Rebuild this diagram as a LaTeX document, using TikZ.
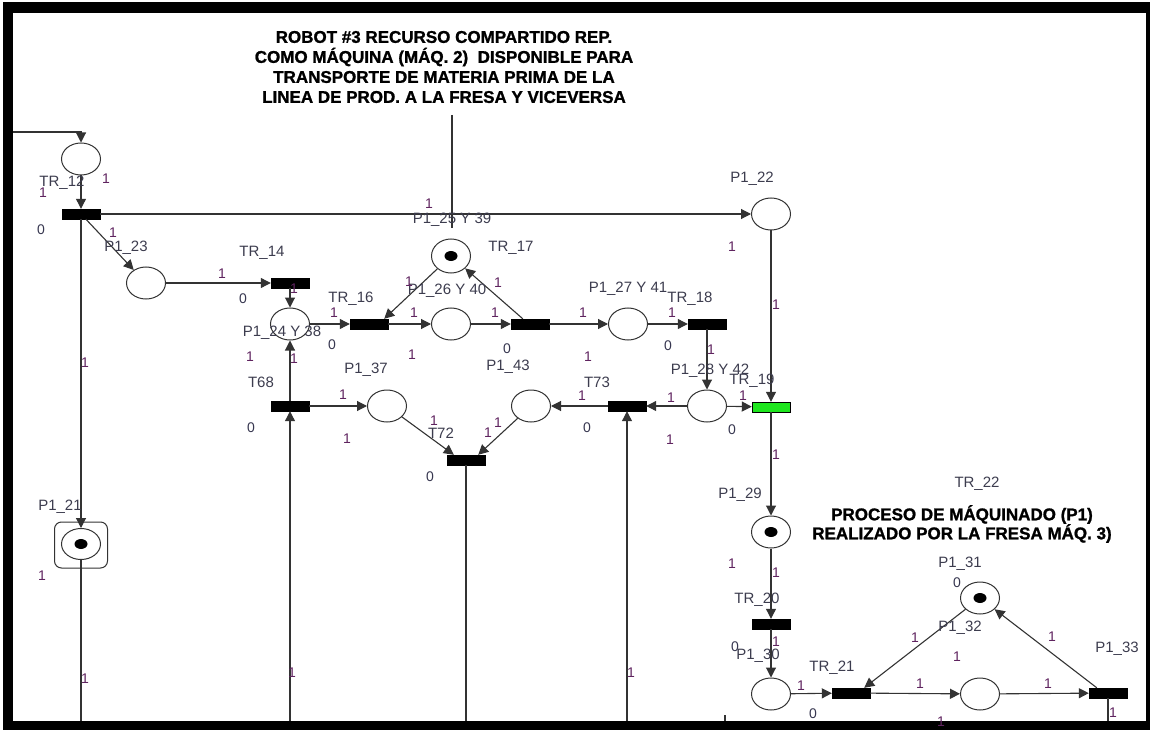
\documentclass[tikz,border=0pt]{standalone}
\usepackage{fontspec}
\setmainfont{Liberation Sans}
\newfontfamily\titlefont{Liberation Sans}[BoldFeatures={FakeBold=1.2}]
\usetikzlibrary{arrows.meta,shapes.geometric}
\definecolor{namecol}{RGB}{60,60,78}
\definecolor{wcol}{RGB}{95,35,95}
\definecolor{zcol}{RGB}{55,55,80}
\definecolor{trgreen}{RGB}{30,230,30}
\begin{document}
\begin{tikzpicture}[x=1pt,y=-1pt,
  place/.style={draw=black!80, ellipse, minimum width=39pt, minimum height=32pt, inner sep=0pt, line width=1pt, fill=white},
  trans/.style={draw=black, fill=black, rectangle, minimum width=38pt, minimum height=10pt, inner sep=0pt},
  tok/.style={fill=black, ellipse, minimum width=13pt, minimum height=10pt, inner sep=0pt},
  arc/.style={draw=black!80, line width=1.1pt, -{Triangle[length=10pt,width=10pt]}},
  plain/.style={draw=black!80, line width=1.1pt},
  nm/.style={font=\fontsize{15}{15}\selectfont, text=namecol, inner sep=0pt},
  wt/.style={font=\fontsize{14}{14}\selectfont, text=wcol, inner sep=0pt},
  zr/.style={font=\fontsize{14}{14}\selectfont, text=zcol, inner sep=0pt},
  ttl/.style={font=\titlefont\bfseries\fontsize{17}{20}\selectfont, align=center, inner sep=0pt}
]
\useasboundingbox (0,0) rectangle (1151,730);
% frame
\fill[black] (3,2) rectangle (1150,13);
\fill[black] (3,2) rectangle (13,730);
\fill[black] (3,721) rectangle (1150,730);
\fill[black] (1146,2) rectangle (1150,730);

% titles
\node[ttl] (title1) at (444,67) {ROBOT \#3 RECURSO COMPARTIDO REP.\\COMO MÁQUINA (MÁQ. 2)\ \ DISPONIBLE PARA\\TRANSPORTE DE MATERIA PRIMA DE LA\\LINEA DE PROD. A LA FRESA Y VICEVERSA};
\node[ttl] (title2) at (962,524) {PROCESO DE MÁQUINADO (P1)\\[-1pt]REALIZADO POR LA FRESA MÁQ. 3)};

% places
\node[place] (ptop) at (81,159) {};
\node[place] (p22) at (771,214) {};
\node[place] (p23) at (146,283) {};
\node[place] (p24) at (290,324) {};
\node[place, minimum height=34pt] (p25) at (451,256) {};
\node[place] (p26) at (451,324) {};
\node[place] (p27) at (628,324) {};
\node[place] (p37) at (387,406) {};
\node[place] (p43) at (531,406) {};
\node[place] (p28) at (707,406) {};
\node[place] (p29) at (771,532) {};
\node[place] (p30) at (771,694) {};
\node[place] (p31) at (980,598) {};
\node[place] (p32) at (980,694) {};
\node[draw=black!80, line width=1pt, rounded corners=7pt, minimum width=53pt, minimum height=46pt, inner sep=0pt] (p21box) at (81,545) {};
\node[place, minimum height=31pt] (p21) at (81,544) {};
% tokens
\node[tok] (k25) at (p25) {};
\node[tok] (k29) at (p29) {};
\node[tok] (k31) at (p31) {};
\node[tok] (k21) at (p21) {};

% transitions
\node[trans] (t12) at (81,214) {};
\node[trans] (t14) at (290,283) {};
\node[trans] (t16) at (369,324) {};
\node[trans] (t17) at (530,324) {};
\node[trans] (t18) at (707,324) {};
\node[trans] (t68) at (290,406) {};
\node[trans] (t72) at (466,460) {};
\node[trans] (t73) at (627,406) {};
\node[trans, fill=trgreen] (t19) at (771,407) {};
\node[trans] (t20) at (771,624) {};
\node[trans] (t21) at (851,693) {};
\node[trans] (t22) at (1108,693) {};

% free ends
\coordinate (inL) at (13,132);
\coordinate (b21) at (81,721);
\coordinate (b68) at (290,721);
\coordinate (b72) at (466,721);
\coordinate (b73) at (627,721);
\coordinate (b22) at (1108,721);
\coordinate (ta) at (452,115);
\coordinate (tb) at (452,228);
\coordinate (tk1) at (725,715);
\coordinate (tk2) at (725,721);

% connectors
\draw[arc] (inL) -| (ptop.north);
\draw[arc] (ptop) -- (t12);
\draw[arc] (t12) -- (p22);
\draw[arc] (t12) -- (p23);
\draw[arc] (t12) -- (p21.north);
\draw[plain] (p21.south) -- (b21);
\draw[arc] (p23) -- (t14);
\draw[arc] (t14) -- (p24);
\draw[arc] (p24) -- (t16);
\draw[arc] (p25) -- ([xshift=-4pt]t16.north east);
\draw[arc] (t16) -- (p26);
\draw[arc] (p26) -- (t17);
\draw[arc] ([xshift=12pt]t17.north west) -- (p25);
\draw[arc] (t17) -- (p27);
\draw[arc] (p27) -- (t18);
\draw[arc] (t18) -- (p28);
\draw[arc] (p28) -- (t73);
\draw[arc] (p28) -- (t19);
\draw[arc] (p22) -- (t19);
\draw[arc] (t68) -- (p24);
\draw[arc] (b68) -- (t68);
\draw[arc] (t68) -- (p37);
\draw[arc] (p37) -- ([xshift=7pt]t72.north west);
\draw[arc] (p43) -- ([xshift=-7pt]t72.north east);
\draw[plain] (t72) -- (b72);
\draw[arc] (t73) -- (p43);
\draw[arc] (b73) -- (t73);
\draw[arc] (t19) -- (p29);
\draw[arc] (p29) -- (t20);
\draw[arc] (t20) -- (p30);
\draw[arc] (p30) -- (t21);
\draw[arc] (p31) -- ([xshift=-6pt]t21.north east);
\draw[arc] (t21) -- (p32);
\draw[arc] (p32) -- (t22);
\draw[arc] ([xshift=8pt]t22.north west) -- (p31);
\draw[plain] (t22) -- (b22);
\draw[plain] (ta) -- (tb);
\draw[plain] (tk1) -- (tk2);

% names
\node[nm] (n1) at (62,183) {TR\_12};
\node[nm] (n2) at (752,179) {P1\_22};
\node[nm] (n3) at (126,248) {P1\_23};
\node[nm] (n4) at (262,253) {TR\_14};
\node[nm] (n5) at (282,333) {P1\_24 Y 38};
\node[nm] (n6) at (351,299) {TR\_16};
\node[nm] (n7) at (452,220) {P1\_25 Y 39};
\node[nm] (n8) at (511,248) {TR\_17};
\node[nm] (n9) at (447,291) {P1\_26 Y 40};
\node[nm] (n10) at (628,289) {P1\_27 Y 41};
\node[nm] (n11) at (690,299) {TR\_18};
\node[nm] (n12) at (261,382) {T68};
\node[nm] (n13) at (366,370) {P1\_37};
\node[nm] (n14) at (441,433) {T72};
\node[nm] (n15) at (508,367) {P1\_43};
\node[nm] (n16) at (597,382) {T73};
\node[nm] (n17) at (710,371) {P1\_28 Y 42};
\node[nm] (n18) at (752,381) {TR\_19};
\node[nm] (n19) at (60,507) {P1\_21};
\node[nm] (n20) at (740,495) {P1\_29};
\node[nm] (n21) at (977,484) {TR\_22};
\node[nm] (n22) at (960,564) {P1\_31};
\node[nm] (n23) at (757,600) {TR\_20};
\node[nm] (n24) at (960,628) {P1\_32};
\node[nm] (n25) at (758,656) {P1\_30};
\node[nm] (n26) at (832,668) {TR\_21};
\node[nm] (n27) at (1117,649) {P1\_33};

% weights 1
\foreach \x/\y [count=\i] in {106/179, 43/193, 113/233, 429/204, 222/274, 294/289, 334/313, 414/313, 495/313, 583/313, 672/313, 250/357, 294/359, 412/355, 588/357, 409/282, 498/283, 732/247, 776/305, 85/363, 711/350, 343/395, 347/439, 434/421, 498/423, 488/433, 582/396, 671/398, 670/440, 743/396, 776/455, 732/564, 776/573, 776/642, 801/686, 915/638, 957/657, 920/684, 1048/684, 1052/637, 1113/713, 941/722, 42/576, 85/679, 292/673, 631/673}
  \node[wt] (w\i) at (\x,\y) {1};
% weights 0
\foreach \x/\y [count=\i] in {41/230, 243/299, 332/345, 507/349, 668/346, 251/428, 430/477, 587/428, 732/430, 735/647, 813/714, 957/583}
  \node[zr] (z\i) at (\x,\y) {0};
\end{tikzpicture}
\end{document}
